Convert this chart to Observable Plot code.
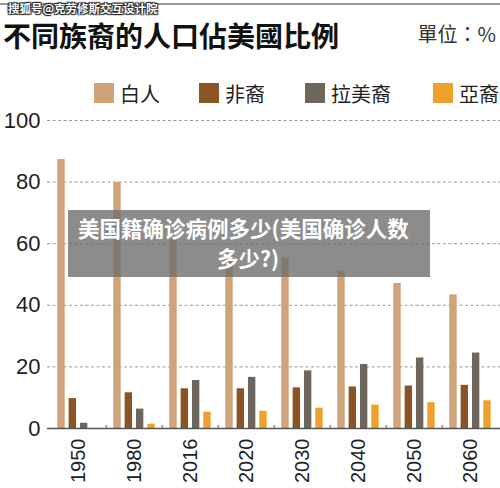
<!DOCTYPE html>
<html>
<head>
<meta charset="utf-8">
<script src="https://cdn.jsdelivr.net/npm/d3@7"></script>
<script src="https://cdn.jsdelivr.net/npm/@observablehq/plot@0.6"></script>
<style>
  html, body { margin: 0; padding: 0; background: #fff; }
  #page { position: relative; width: 500px; height: 488px; overflow: hidden; background: #fff;
          font-family: "Noto Sans CJK TC", "Noto Sans", sans-serif; }
  #topline { position: absolute; left: 0; top: 3px; width: 500px; height: 2px; background: #9a9a9a; }
  #mark { position: absolute; left: 8px; top: 2px; font-size: 11.5px; font-weight: 700; color: #fff;
          font-family: "Noto Sans CJK SC", sans-serif; line-height: 13px;
          text-shadow: 0 0 1px #222, 1px 1px 1px #222, -1px -1px 1px #222, 1px -1px 1px #222, -1px 1px 1px #222; }
  #title { position: absolute; left: 3px; top: 21px; font-size: 28px; font-weight: 700; color: #111;
           line-height: 28px; }
  #unit { position: absolute; right: 4px; top: 19px; font-size: 20px; color: #333; line-height: 30px; }
  #legend { position: absolute; left: 0; top: 78px; width: 500px; height: 30px; }
  .item { position: absolute; top: 0; height: 30px; display: flex; align-items: center; font-size: 20px;
          color: #222; white-space: nowrap; }
  .sw { width: 20px; height: 20px; margin-right: 6px; flex: none; }
  #chart { position: absolute; left: 0; top: 100px; }
  #banner { position: absolute; left: 68px; top: 210px; width: 362px; height: 67px;
            background: rgba(108,108,108,0.78); color: #fff; font-weight: 700; font-size: 21.5px;
            font-family: "Noto Sans CJK SC", sans-serif; }
  #banner div { position: absolute; white-space: nowrap; line-height: 30px; }
</style>
</head>
<body>
<div id="page">
  <div id="chart"></div>
  <div id="topline"></div>
  <div id="mark">搜狐号@克劳修斯交互设计院</div>
  <div id="title">不同族裔的人口佔美國比例</div>
  <div id="unit">單位：%</div>
  <div id="legend"></div>
  <div id="banner"><div style="left:10px;top:3px;">美国籍确诊病例多少(美国确诊人数</div><div style="left:149px;top:33px;">多少?)</div></div>
</div>
<script>
// Share of the U.S. population by race / ethnicity (%), with projections
const years = ["1950", "1980", "2016", "2020", "2030", "2040", "2050", "2060"];
const groups = ["白人", "非裔", "拉美裔", "亞裔"];
const white    = [87.3, 79.9, 61.2, 54.8, 55.3, 51.1, 47.1, 43.4];
const black    = [9.7, 11.6, 12.9, 12.9, 13.2, 13.5, 13.8, 14.0];
const hispanic = [1.7, 6.3, 15.6, 16.6, 18.7, 20.8, 22.9, 24.5];
const asian    = [0, 1.4, 5.3, 5.6, 6.6, 7.6, 8.4, 9.0];
const yTicks = [0, 20, 40, 60, 80, 100];
const colors = ["#cfa378", "#8b5427", "#6e655c", "#f0a12a"];

const seriesValues = [white, black, hispanic, asian];
const rows = seriesValues.map(vals => years.map((year, i) => ({year, value: vals[i]})));

// Legend
const legend = document.getElementById("legend");
const legendX = [94, 199, 305, 433];
groups.forEach((g, i) => {
  const item = document.createElement("div");
  item.className = "item";
  item.style.left = legendX[i] + "px";
  item.innerHTML = `<span class="sw" style="background:${colors[i]}"></span><span>${g}</span>`;
  legend.appendChild(item);
});

// Bars are grouped inside each year band: 8px wide, 11.33px apart
const width = 500, marginLeft = 47, marginRight = 0;
const step = (width - marginLeft - marginRight) / years.length;
const barW = 8, barStep = 11.33, lead = 7.3;

const barMarks = rows.map((data, i) => {
  const insetLeft = lead + i * barStep;
  return Plot.barY(data, {
    x: "year", y: "value", fill: colors[i],
    insetLeft, insetRight: step - barW - insetLeft
  });
});

const chart = Plot.plot({
  width, height: 388,
  marginLeft, marginRight, marginTop: 20, marginBottom: 60,
  style: {fontFamily: "'Liberation Sans', Arial, sans-serif", background: "transparent"},
  x: {domain: years, padding: 0, label: null},
  y: {type: "linear", domain: [0, 100], label: null},
  marks: [
    Plot.gridY(yTicks, {stroke: "#9a9a9a", strokeOpacity: 1, strokeDasharray: "3,2.5", strokeWidth: 1}),
    ...barMarks,
    Plot.ruleY([0], {stroke: "#555", strokeWidth: 1.5}),
    // small separators between year groups on the baseline
    Plot.ruleX(years.slice(1), {x: d => d, y1: 0, y2: 1, dx: -step / 2, stroke: "#555", strokeWidth: 1}),
    Plot.axisY(yTicks, {tickSize: 0, tickPadding: 7, fontSize: 22, fill: "#1e1e1e", label: null}),
    Plot.axisX({tickSize: 0, tickPadding: 10, tickRotate: -90, fontSize: 20, fill: "#1e1e1e", label: null})
  ]
});
document.getElementById("chart").appendChild(chart);
</script>
</body>
</html>
